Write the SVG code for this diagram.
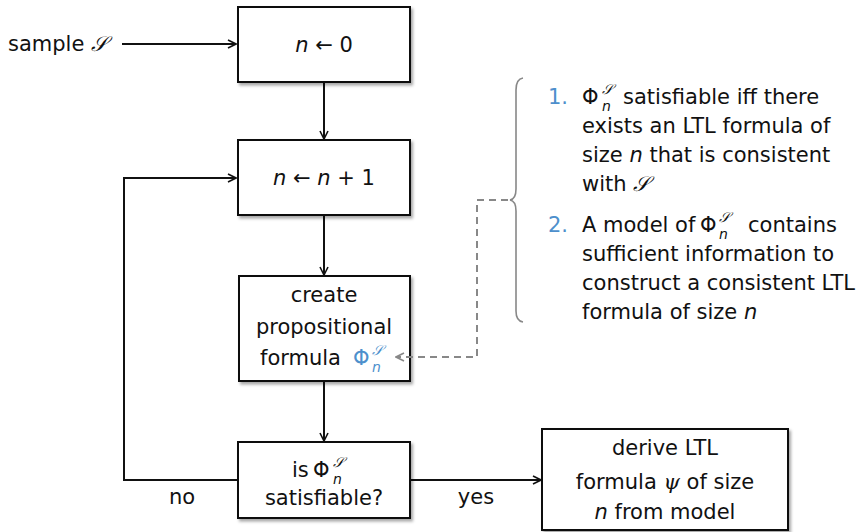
<svg xmlns="http://www.w3.org/2000/svg" width="858" height="532" viewBox="0 0 858 532">
<style>
text{font-family:"DejaVu Sans","Liberation Sans",sans-serif;font-size:21px;fill:#111}
.box{fill:#fff;stroke:#111;stroke-width:2}
.c{text-anchor:middle}
.it{font-style:italic}
.scr{font-family:"DejaVu Serif","Liberation Serif",serif;font-style:italic}
.sup{font-size:14px}
.blue{fill:#4d8fcc}
.ln{fill:none;stroke:#111;stroke-width:2}
.dash{fill:none;stroke:#888;stroke-width:2;stroke-dasharray:7,5}
</style>
<defs>
<filter id="sh" x="-10%" y="-10%" width="130%" height="130%"><feDropShadow dx="2" dy="2.5" stdDeviation="1.5" flood-color="#000" flood-opacity="0.35"/></filter>
<marker id="ar" viewBox="0 0 10 10" refX="9" refY="5" markerWidth="10" markerHeight="10" markerUnits="userSpaceOnUse" orient="auto"><path d="M1,1 L9,5 L1,9" fill="none" stroke="#111" stroke-width="1.6"/></marker>
<marker id="arg" viewBox="0 0 10 10" refX="9" refY="5" markerWidth="10" markerHeight="10" markerUnits="userSpaceOnUse" orient="auto"><path d="M1,1 L9,5 L1,9" fill="none" stroke="#888" stroke-width="1.6"/></marker>
</defs>

<text x="8" y="51">sample <tspan class="scr">𝒮</tspan></text>

<g id="connectors">
<line class="ln" x1="122" y1="44" x2="236" y2="44" marker-end="url(#ar)"/>
<line class="ln" x1="324" y1="82" x2="324" y2="139" marker-end="url(#ar)"/>
<line class="ln" x1="324" y1="215" x2="324" y2="275" marker-end="url(#ar)"/>
<line class="ln" x1="324" y1="381" x2="324" y2="441" marker-end="url(#ar)"/>
<polyline class="ln" points="238,480 124,480 124,178 236,178" marker-end="url(#ar)"/>
<line class="ln" x1="410" y1="480" x2="541" y2="480" marker-end="url(#ar)"/>
<text class="c" x="182" y="504">no</text>
<text class="c" x="476" y="504">yes</text>
</g>

<g id="n0">
<rect class="box" x="238" y="7" width="172" height="75" filter="url(#sh)"/>
<text class="c" x="324" y="52"><tspan class="it">n</tspan> ← 0</text>
</g>

<g id="ninc">
<rect class="box" x="238" y="140" width="172" height="75" filter="url(#sh)"/>
<text class="c" x="324" y="185"><tspan class="it">n</tspan> ← <tspan class="it">n</tspan> + 1</text>
</g>

<g id="create">
<rect class="box" x="239" y="276" width="171" height="105" filter="url(#sh)"/>
<text class="c" x="324" y="302">create</text>
<text class="c" x="324" y="334">propositional</text>
<text x="260" y="365">formula</text>
<text class="blue" x="353" y="365">Φ</text>
<text class="blue scr sup" x="372" y="355">𝒮</text>
<text class="blue it sup" x="372" y="372">n</text>
</g>

<g id="check">
<rect class="box" x="238" y="442" width="172" height="76" filter="url(#sh)"/>
<text x="292" y="477">is</text>
<text x="313" y="477">Φ</text>
<text class="scr sup" x="333" y="467">𝒮</text>
<text class="it sup" x="333" y="484">n</text>
<text class="c" x="324" y="505">satisfiable?</text>
</g>

<g id="derive">
<rect class="box" x="542" y="429" width="246" height="101" filter="url(#sh)"/>
<text class="c" x="665" y="455">derive LTL</text>
<text class="c" x="665" y="489">formula <tspan class="scr">ψ</tspan> of size</text>
<text class="c" x="665" y="519"><tspan class="it">n</tspan> from model</text>
</g>

<g id="note-link">
<polyline class="dash" points="508,200 477,200 477,357 396,357" marker-end="url(#arg)"/>
</g>

<g id="notes">
<path d="M523,78 Q516,79 516,90 L516,189 Q516,199 510,200 Q516,201 516,211 L516,311 Q516,321 523,322" fill="none" stroke="#888" stroke-width="1.6"/>
<text class="blue" x="548" y="104">1.</text>
<text x="582" y="104">Φ</text>
<text class="scr sup" x="602" y="94">𝒮</text>
<text class="it sup" x="602" y="111">n</text>
<text x="623" y="104">satisfiable iff there</text>
<text x="582" y="133">exists an LTL formula of</text>
<text x="582" y="162">size <tspan class="it">n</tspan> that is consistent</text>
<text x="582" y="191">with <tspan class="scr">𝒮</tspan></text>
<text class="blue" x="548" y="232">2.</text>
<text x="582" y="232">A model of</text>
<text x="700" y="232">Φ</text>
<text class="scr sup" x="719" y="222">𝒮</text>
<text class="it sup" x="719" y="239">n</text>
<text x="748" y="232">contains</text>
<text x="582" y="261">sufficient information to</text>
<text x="582" y="290">construct a consistent LTL</text>
<text x="582" y="319">formula of size <tspan class="it">n</tspan></text>
</g>
</svg>
